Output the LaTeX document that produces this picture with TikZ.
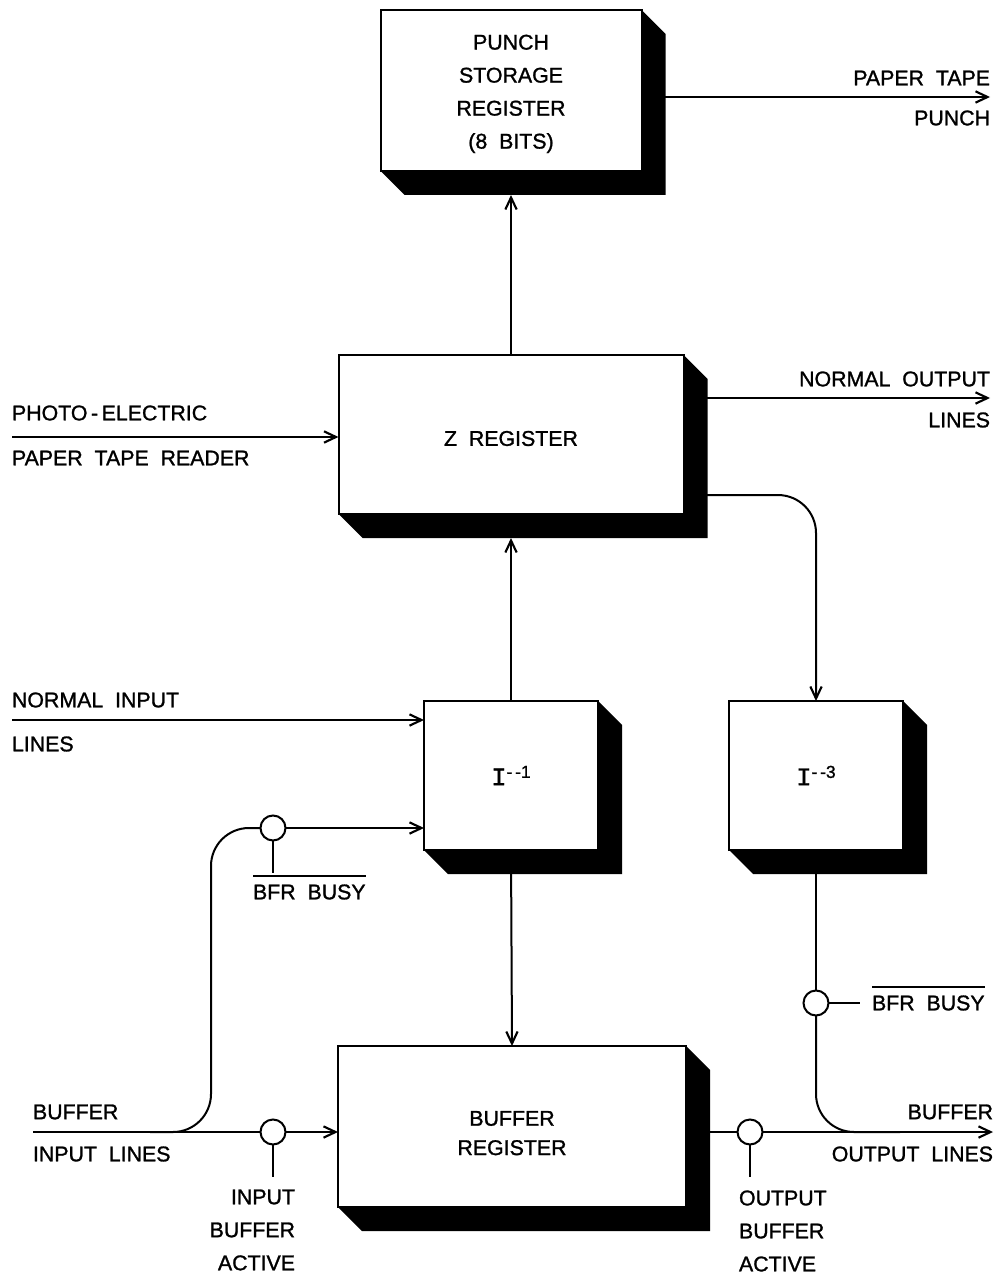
\documentclass[tikz,border=0pt]{standalone}
\usepackage{fontspec}
\setmainfont{Liberation Sans}[FakeBold=1.2]
\newfontfamily\monof{Liberation Mono}[FakeBold=1.2]
\usetikzlibrary{arrows.meta,calc}
\newcommand\boxshade[1]{\fill (#1.north east) -- ++(24,24) -- ($(#1.south east)+(24,24)$) -- ($(#1.south west)+(24,24)$) -- (#1.south west) -- (#1.south east) -- cycle;}
\newcommand\ireg[1]{{\monof\fontsize{19}{19}\selectfont I}\raisebox{5.5pt}{\fontsize{13}{13}\selectfont -\,-#1}}
\newcommand\lowered[2]{\raisebox{-#1}[\height][\depth]{#2}}
\begin{document}
\begin{tikzpicture}[x=0.75pt,y=-0.75pt,line width=1.5pt,
  every node/.style={font=\fontsize{16}{24.75}\selectfont, inner sep=0pt, outer sep=0pt},
  reg/.style={draw, fill=white, line width=1.5pt, align=center},
  arr/.style={-{Straight Barb[length=9pt,width=8.5pt,line width=1.6pt]}},
  gate/.style={circle, draw, fill=white, line width=1.5pt, minimum size=18.75pt},
  lbl/.style={align=left},
  lblr/.style={align=right}]
\useasboundingbox (0,0) rectangle (998,1276);
% registers
\node[reg, minimum width=195.75pt, minimum height=120.75pt] (punch) at (511,90.5)
  {\lowered{1.5pt}{\begin{tabular}{@{}c@{}}PUNCH\\STORAGE\\REGISTER\\(8\ \ BITS)\end{tabular}}};
\node[reg, minimum width=258.75pt, minimum height=119.25pt] (z) at (511,434.5) {\lowered{3pt}{Z\ \ REGISTER}};
\node[reg, minimum width=130.5pt, minimum height=111.75pt] (i1) at (511,775.5) {\ireg{1}};
\node[reg, minimum width=130.5pt, minimum height=111.75pt] (i3) at (816,775.5) {\ireg{3}};
\node[reg, minimum width=261pt, minimum height=120.75pt, font=\fontsize{16}{22}\selectfont] (buffer) at (512,1126.5)
  {\lowered{6pt}{\begin{tabular}{@{}c@{}}BUFFER\\REGISTER\end{tabular}}};
\boxshade{punch}
\boxshade{z}
\boxshade{i1}
\boxshade{i3}
\boxshade{buffer}
% free ends
\coordinate (ptp) at (990,97);
\coordinate (pin) at (12,437);
\coordinate (nout) at (990,398);
\coordinate (nin) at (12,720);
\coordinate (bin) at (33,1132);
\coordinate (bsplit) at (150,1132);
\coordinate (bturn) at (211,1132);
\coordinate (g1s) at (273,1177);
\coordinate (g2s) at (273,873);
\coordinate (g3s) at (860,1003);
\coordinate (g4s) at (750,1177);
\coordinate (bmerge) at (900,1132);
\coordinate (bout) at (993,1132);
% gates
\node[gate] (g1) at (273,1132) {};
\node[gate] (g2) at (273,828) {};
\node[gate] (g3) at (816,1003) {};
\node[gate] (g4) at (750,1132) {};
% connectors
\draw[arr] (punch.east |- ptp) -- (ptp);
\draw[arr] (z.north) -- ([yshift=-18pt]punch.south);
\draw[arr] (pin) -- (pin -| z.west);
\draw[arr] (z.east |- nout) -- (nout);
\draw[arr, rounded corners=28.5pt] ([yshift=-45.4pt]z.east) -| (i3.north);
\draw[arr] (i1.north) -- ([yshift=-18pt]z.south);
\draw[arr] (nin) -- (nin -| i1.west);
\draw[arr] (i1.south) -- (buffer.north);
\draw (bin) -- (g1);
\draw[arr] (g1) -- (g1 -| buffer.west);
\draw (g1) -- (g1s);
\draw[rounded corners=28.5pt] (bsplit) -- (bturn) |- (g2);
\draw[arr] (g2) -- (g2 -| i1.west);
\draw (g2) -- (g2s);
\draw (i3.south) -- (g3);
\draw[rounded corners=28.5pt] (g3) |- (bmerge);
\draw (g3) -- (g3s);
\draw (buffer.east |- g4) -- (g4);
\draw[arr] (g4) -- (bout);
\draw (g4) -- (g4s);
% labels
\node[anchor=east] (lptp1) at (990,78) {PAPER\ \ TAPE};
\node[anchor=east] (lptp2) at (990,118) {PUNCH};
\node[anchor=west] (lpin1) at (12,413) {PHOTO\,-\,ELECTRIC};
\node[anchor=west] (lpin2) at (12,458) {PAPER\ \ TAPE\ \ READER};
\node[anchor=east] (lnout1) at (990,379) {NORMAL\ \ OUTPUT};
\node[anchor=east] (lnout2) at (990,420) {LINES};
\node[anchor=west] (lnin1) at (12,700) {NORMAL\ \ INPUT};
\node[anchor=west] (lnin2) at (12,744) {LINES};
\node[anchor=west] (lbin1) at (33,1112) {BUFFER};
\node[anchor=west] (lbin2) at (33,1154) {INPUT\ \ LINES};
\node[anchor=east] (lbout1) at (993,1112) {BUFFER};
\node[anchor=east] (lbout2) at (993,1154) {OUTPUT\ \ LINES};
\node[lblr, anchor=east] (liba) at (295,1230) {INPUT\\BUFFER\\ACTIVE};
\node[lbl, anchor=west] (loba) at (739,1231) {OUTPUT\\BUFFER\\ACTIVE};
\node[anchor=west] (bb1) at (253,892) {BFR\ \ BUSY};
\draw ([yshift=6pt]bb1.north west) -- ([yshift=6pt]bb1.north east);
\node[anchor=west] (bb2) at (872,1003) {BFR\ \ BUSY};
\draw ([yshift=6pt]bb2.north west) -- ([yshift=6pt]bb2.north east);
\end{tikzpicture}
\end{document}
